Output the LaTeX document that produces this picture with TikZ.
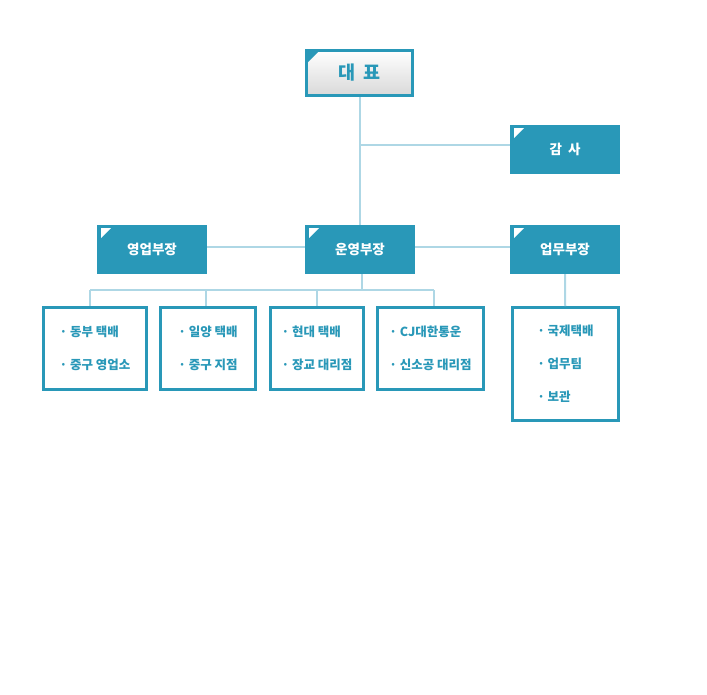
\documentclass[tikz,border=0pt]{standalone}
\usepackage{fontspec}
\newfontfamily\kr{Noto Sans CJK KR}
\usetikzlibrary{calc}
\definecolor{boxblue}{RGB}{41,152,184}
\definecolor{linkblue}{RGB}{174,215,229}

\begin{document}
\begin{tikzpicture}[x=1pt,y=-1pt,
  top node/.style={draw=boxblue,line width=3pt,top color=white,bottom color=black!15,
    minimum width=106pt,minimum height=45pt,text=boxblue,font=\kr\bfseries\fontsize{18.5}{20}\selectfont,
    path picture={\fill[boxblue] (path picture bounding box.north west) -- ++(13pt,0pt) -- ++(-13pt,-13pt) -- cycle;}},
  head node/.style={fill=boxblue,text=white,minimum width=110pt,minimum height=49pt,inner sep=0pt,
    font=\kr\bfseries\fontsize{13.5}{16}\selectfont,
    path picture={\fill[white] ([shift={(4pt,-3pt)}]path picture bounding box.north west) -- ++(10pt,0pt) -- ++(-10pt,-10pt) -- cycle;}},
  list node/.style={draw=boxblue,line width=3pt,fill=white,minimum height=82pt,align=left,
    text=boxblue,font=\kr\bfseries\fontsize{12.5}{33}\selectfont},
  link/.style={draw=linkblue,line width=2pt}]

\useasboundingbox (0,0) rectangle (707,694);

\node[top node](Rep) at (359.5,73) {대\hspace{0.4em}표};
\node[head node](Aud) at (565,149.5) {감\hspace{0.45em}사};
\node[head node](Sales) at (152,249.5) {영업부장};
\node[head node](Ops) at (360,249.5) {운영부장};
\node[head node](Biz) at (565,249.5) {업무부장};

\node[list node,minimum width=103pt](L1) at (95,348.5) {· 동부 택배\\· 중구 영업소};
\node[list node,minimum width=95pt](L2) at (208,348.5) {· 일양 택배\\· 중구 지점};
\node[list node,minimum width=93pt](L3) at (317,348.5) {· 현대 택배\\· 장교 대리점};
\node[list node,minimum width=106pt](L4) at (430.5,348.5) {· CJ대한통운\\· 신소공 대리점};
\node[list node,minimum width=106pt,minimum height=113pt](L5) at (565.5,364) {· 국제택배\\· 업무팀\\· 보관};

% junctions of the connectors
\coordinate (a1) at (359.5,145);
\coordinate (m1) at (360,247);
\coordinate (bus) at (362,290);
\coordinate (d1) at (90,290);
\coordinate (d2) at (206,290);
\coordinate (d3) at (317,290);
\coordinate (d4) at (434,290);

\path[link]
(Rep.south) edge (Rep.south |- Ops.north)
(a1) edge (a1 -| Aud.west)
(m1 -| Sales.east) edge (m1 -| Ops.west)
(m1 -| Ops.east) edge (m1 -| Biz.west)
(Ops.south -| bus) edge (bus)
(d1) edge (d4)
(d1) edge (d1 |- L1.north)
(d2) edge (d2 |- L2.north)
(d3) edge (d3 |- L3.north)
(d4) edge (d4 |- L4.north)
(Biz) edge (L5);

\end{tikzpicture}
\end{document}
